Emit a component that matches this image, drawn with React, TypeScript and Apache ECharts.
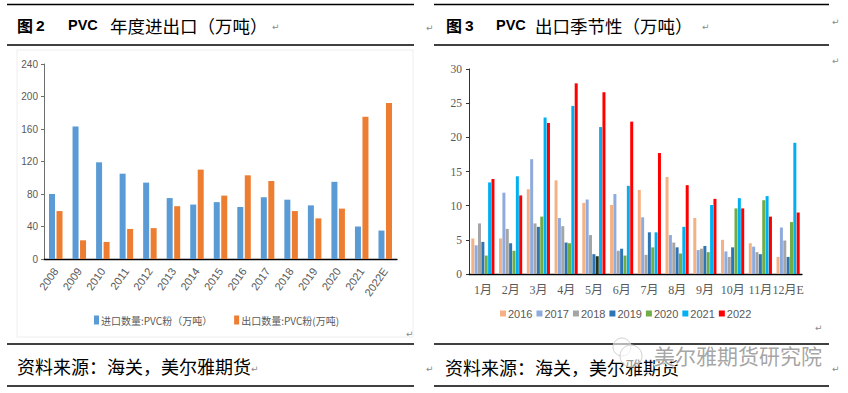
import React, { useEffect, useRef } from "react";
import * as echarts from "echarts";

const years = ["2008", "2009", "2010", "2011", "2012", "2013", "2014", "2015", "2016", "2017", "2018", "2019", "2020", "2021", "2022E"];
const importVals = [80, 163, 119, 105, 94, 75, 67, 70, 64, 76, 73, 66, 95, 40, 35];
const exportVals = [59, 23, 21, 37, 38, 65, 110, 78, 103, 96, 59, 50, 62, 175, 192];
const leftYTicks = { min: 0, max: 240, interval: 40 };

const months = ["1月", "2月", "3月", "4月", "5月", "6月", "7月", "8月", "9月", "10月", "11月", "12月E"];
const s2016 = [5.2, 5.2, 12.4, 13.7, 10.4, 10.1, 12.3, 14.2, 8.2, 5.0, 4.5, 2.5];
const s2017 = [4.2, 11.9, 16.8, 8.2, 10.9, 11.7, 8.3, 5.7, 3.5, 3.3, 4.0, 6.8];
const s2018 = [7.4, 6.6, 7.4, 7.0, 5.7, 3.4, 2.8, 4.6, 3.7, 2.5, 3.2, 4.9];
const s2019 = [4.7, 4.5, 6.9, 4.6, 2.9, 3.7, 6.1, 3.9, 4.1, 3.9, 2.9, 2.5];
const s2020 = [2.7, 3.4, 8.4, 4.5, 2.6, 2.7, 3.9, 3.0, 3.2, 9.6, 10.8, 7.6];
const s2021 = [13.4, 14.3, 22.9, 24.6, 21.5, 12.9, 6.1, 6.9, 10.1, 11.1, 11.4, 19.2];
const s2022 = [13.9, 11.5, 22.1, 27.9, 26.6, 22.3, 17.7, 13.0, 11.0, 9.6, 8.4, 9.0];
const rightYTicks = { min: 0, max: 30, interval: 5 };

const seasonal = [
  { name: "2016", data: s2016, color: "#F4B183" },
  { name: "2017", data: s2017, color: "#8FAADC" },
  { name: "2018", data: s2018, color: "#A5A5A5" },
  { name: "2019", data: s2019, color: "#2E75B6" },
  { name: "2020", data: s2020, color: "#70AD47" },
  { name: "2021", data: s2021, color: "#00B0F0" },
  { name: "2022", data: s2022, color: "#FF0000" },
];

const CJK = "'Noto Sans CJK SC', sans-serif";
const GREY = "#595959";

function txt(x: number, y: number, text: string, size: number, extra: any = {}) {
  return {
    type: "text",
    x,
    y,
    style: {
      text,
      fontSize: size,
      fontFamily: CJK,
      fill: "#000",
      align: "left",
      verticalAlign: "middle",
      textAlign: "left",
      textVerticalAlign: "middle",
      ...extra,
    },
  };
}

function hline(x1: number, x2: number, y: number) {
  return {
    type: "line",
    shape: { x1, y1: y, x2, y2: y },
    style: { stroke: "#000", lineWidth: 1.3 },
  };
}

export default function App() {
  const ref = useRef<HTMLDivElement>(null);
  useEffect(() => {
    if (!ref.current) return;
    const chart = echarts.init(ref.current, undefined, { renderer: "svg" });
    const ret = { fill: "#8a8a8a", fontSize: 9, fontFamily: "'DejaVu Sans', sans-serif" };
    const option: any = {
      animation: false,
      backgroundColor: "#fff",
      grid: [
        { left: 44, top: 64, width: 353, height: 195 },
        { left: 469, top: 69, width: 333, height: 205 },
      ],
      legend: [
        {
          data: ["进口数量:PVC粉（万吨）", "出口数量:PVC粉(万吨)"],
          left: 94,
          top: 315,
          padding: 0,
          icon: "rect",
          itemWidth: 5,
          itemHeight: 9,
          itemGap: 22,
          textStyle: { fontSize: 10, color: GREY, fontFamily: CJK, padding: [0, 0, 0, -3] },
        },
        {
          data: seasonal.map((s) => s.name),
          left: 500,
          top: 308,
          padding: 0,
          icon: "rect",
          itemWidth: 6,
          itemHeight: 6,
          itemGap: 4,
          textStyle: { fontSize: 11, color: GREY, fontFamily: "'Liberation Sans', sans-serif", padding: [0, 0, 0, -3] },
        },
      ],
      xAxis: [
        {
          type: "category",
          gridIndex: 0,
          data: years,
          axisLine: { lineStyle: { color: "#000", width: 1.3 } },
          axisTick: { show: false },
          axisLabel: { rotate: 55, fontSize: 11, color: GREY, margin: 10, fontFamily: "'Liberation Sans', sans-serif", interval: 0 },
        },
        {
          type: "category",
          gridIndex: 1,
          data: months,
          axisLine: { lineStyle: { color: "#000", width: 1.3 } },
          axisTick: { show: false },
          axisLabel: { fontSize: 12, color: GREY, margin: 10, fontFamily: "'Liberation Serif', 'Noto Sans CJK SC', serif", interval: 0 },
        },
      ],
      yAxis: [
        {
          type: "value",
          gridIndex: 0,
          ...leftYTicks,
          axisLine: { show: true, lineStyle: { color: "#6e6e6e", width: 1 } },
          axisTick: { show: true, length: 3, lineStyle: { color: "#6e6e6e" } },
          splitLine: { show: false },
          axisLabel: { fontSize: 10, color: GREY, margin: 6, fontFamily: "'Liberation Sans', sans-serif" },
        },
        {
          type: "value",
          gridIndex: 1,
          ...rightYTicks,
          axisLine: { show: true, lineStyle: { color: "#333", width: 1 } },
          axisTick: { show: true, length: 3, lineStyle: { color: "#333" } },
          splitLine: { show: false },
          axisLabel: { fontSize: 11.5, color: GREY, margin: 7, fontFamily: "'Liberation Serif', serif" },
        },
      ],
      series: [
        {
          name: "进口数量:PVC粉（万吨）",
          type: "bar",
          xAxisIndex: 0,
          yAxisIndex: 0,
          data: importVals,
          barWidth: 6,
          barGap: "25%",
          itemStyle: { color: "#5B9BD5" },
        },
        {
          name: "出口数量:PVC粉(万吨)",
          type: "bar",
          xAxisIndex: 0,
          yAxisIndex: 0,
          data: exportVals,
          barWidth: 6,
          barGap: "25%",
          itemStyle: { color: "#ED7D31" },
        },
        ...seasonal.map((s) => ({
          name: s.name,
          type: "bar",
          xAxisIndex: 1,
          yAxisIndex: 1,
          data:
            s.name === "2020"
              ? s.data.map((v, i) => (i === 4 ? { value: v, itemStyle: { color: "#26351f" } } : v))
              : s.data,
          barWidth: 3,
          barGap: "12%",
          itemStyle: { color: s.color },
        })),
      ],
      graphic: [
        {
          type: "rect",
          shape: { x: 17, y: 50, width: 396, height: 287 },
          style: { fill: "none", stroke: "#eeeeee", lineWidth: 1 },
          z: -1,
        },
        hline(7, 414, 4.5),
        hline(7, 414, 45),
        hline(7, 414, 344),
        hline(7, 414, 386),
        hline(434, 829, 4.5),
        hline(434, 829, 45),
        hline(434, 829, 344),
        hline(434, 829, 386),
        txt(17, 25, "图", 16, { fontWeight: "bold" }),
        txt(36, 25, "2", 15.5, { fontWeight: "bold", fontFamily: "'Liberation Sans', sans-serif" }),
        txt(68, 25, "PVC", 14.5, { fontWeight: "bold", fontFamily: "'Liberation Sans', sans-serif" }),
        txt(110, 25, "年度进出口（万吨）", 17.5),
        txt(272, 27, "↵", 9, ret),
        txt(426, 28, "↵", 9, ret),
        txt(446, 25, "图", 16, { fontWeight: "bold" }),
        txt(465, 25, "3", 15.5, { fontWeight: "bold", fontFamily: "'Liberation Sans', sans-serif" }),
        txt(496, 25, "PVC", 14.5, { fontWeight: "bold", fontFamily: "'Liberation Sans', sans-serif" }),
        txt(535, 25, "出口季节性（万吨）", 17.5),
        txt(702, 27, "↵", 9, ret),
        txt(832, 22, "↵", 9, ret),
        txt(832, 61, "↵", 9, ret),
        txt(406, 334, "↵", 9, ret),
        txt(815, 328, "↵", 9, ret),
        txt(17, 366, "资料来源：海关，美尔雅期货", 18),
        txt(251, 369, "↵", 9, ret),
        txt(426, 369, "↵", 9, ret),
        txt(445, 367, "资料来源：海关，美尔雅期货", 18),
        txt(832, 369, "↵", 9, ret),
        {
          type: "circle",
          shape: { cx: 622, cy: 347, r: 9 },
          style: { fill: "rgba(255,255,255,0.6)", stroke: "#d0d0d0", lineWidth: 1 },
          z: 10,
        },
        {
          type: "circle",
          shape: { cx: 631, cy: 356, r: 11 },
          style: { fill: "rgba(255,255,255,0.6)", stroke: "#d0d0d0", lineWidth: 1 },
          z: 10,
        },
        {
          ...txt(654, 355, "美尔雅期货研究院", 21, {
            fill: "#9a9a9a",
            stroke: "#ffffff",
            lineWidth: 2,
            opacity: 0.9,
          }),
          z: 10,
        },
      ],
    };
    chart.setOption(option);
    return () => chart.dispose();
  }, []);
  return (
    <div
      ref={ref}
      style={{ position: "absolute", left: 0, top: 0, width: 848, height: 393, background: "#fff" }}
    />
  );
}
